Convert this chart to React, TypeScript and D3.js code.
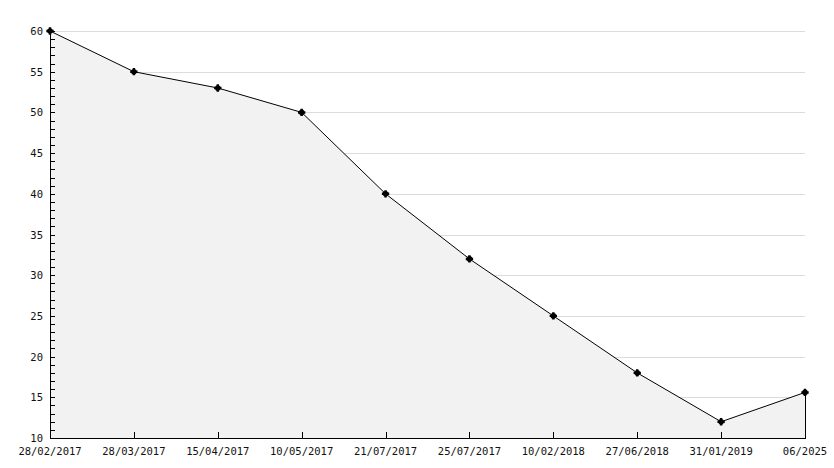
import React, { useEffect, useRef } from 'react';
import * as d3 from 'd3';

const dates = [
  '28/02/2017', '28/03/2017', '15/04/2017', '10/05/2017', '21/07/2017',
  '25/07/2017', '10/02/2018', '27/06/2018', '31/01/2019', '06/2025',
];
const values = [60, 55, 53, 50, 40, 32, 25, 18, 12, 15.6];
const yTicks = [10, 15, 20, 25, 30, 35, 40, 45, 50, 55, 60];

const App: React.FC = () => {
  const svgRef = useRef<SVGSVGElement>(null);

  useEffect(() => {
    if (!svgRef.current) return;
    d3.select(svgRef.current).selectAll('*').remove();

    const width = 834;
    const height = 468;
    const left = 50, right = 805, top = 31, bottom = 438;
    const font = '"DejaVu Sans Mono", monospace';

    const svg = d3.select(svgRef.current)
      .attr('width', width)
      .attr('height', height);

    const x = d3.scalePoint<string>().domain(dates).range([left, right]);
    const y = d3.scaleLinear().domain([10, 60]).range([bottom, top]);

    const pts = dates.map((d, i) => ({ d, v: values[i] }));

    // Gridlines
    svg.append('g')
      .selectAll('line')
      .data(yTicks.filter(t => t > 10))
      .enter().append('line')
      .attr('x1', left)
      .attr('x2', right)
      .attr('y1', d => Math.round(y(d)) + 0.5)
      .attr('y2', d => Math.round(y(d)) + 0.5)
      .attr('stroke', '#dcdcdc')
      .attr('shape-rendering', 'crispEdges');

    // Area
    const area = d3.area<{ d: string; v: number }>()
      .x(p => x(p.d) ?? 0)
      .y0(bottom)
      .y1(p => y(p.v));
    svg.append('path')
      .datum(pts)
      .attr('d', area)
      .attr('fill', '#f2f2f2');

    // right edge of area
    svg.append('line')
      .attr('x1', right + 0.5).attr('x2', right + 0.5)
      .attr('y1', y(values[values.length - 1]))
      .attr('y2', bottom)
      .attr('stroke', '#000');

    // Line
    const line = d3.line<{ d: string; v: number }>()
      .x(p => x(p.d) ?? 0)
      .y(p => y(p.v));
    svg.append('path')
      .datum(pts)
      .attr('d', line)
      .attr('fill', 'none')
      .attr('stroke', '#000')
      .attr('stroke-width', 1);

    // Markers
    svg.append('g')
      .selectAll('path')
      .data(pts)
      .enter().append('path')
      .attr('transform', p => `translate(${x(p.d)},${y(p.v)})`)
      .attr('d', d3.symbol().type(d3.symbolCross).size(30)())
      .attr('fill', '#000');
    svg.append('g')
      .selectAll('circle')
      .data(pts)
      .enter().append('circle')
      .attr('cx', p => x(p.d) ?? 0)
      .attr('cy', p => y(p.v))
      .attr('r', 2.8)
      .attr('fill', '#000');

    // Y axis
    svg.append('line')
      .attr('x1', left + 0.5).attr('x2', left + 0.5)
      .attr('y1', top).attr('y2', bottom)
      .attr('stroke', '#000')
      .attr('shape-rendering', 'crispEdges');
    const minor = d3.range(10, 60.01, 1);
    svg.append('g')
      .selectAll('line')
      .data(minor)
      .enter().append('line')
      .attr('x1', left)
      .attr('x2', left + 5)
      .attr('y1', d => Math.round(y(d)) + 0.5)
      .attr('y2', d => Math.round(y(d)) + 0.5)
      .attr('stroke', '#000')
      .attr('shape-rendering', 'crispEdges');
    svg.append('g')
      .selectAll('text')
      .data(yTicks)
      .enter().append('text')
      .attr('x', 43)
      .attr('y', d => y(d) + 4)
      .attr('text-anchor', 'end')
      .style('font-family', font)
      .style('font-size', '10.5px')
      .style('fill', '#111')
      .text(d => d);

    // X axis
    svg.append('line')
      .attr('x1', left).attr('x2', right + 1)
      .attr('y1', bottom + 0.5).attr('y2', bottom + 0.5)
      .attr('stroke', '#000')
      .attr('shape-rendering', 'crispEdges');
    svg.append('g')
      .selectAll('line')
      .data(dates.slice(1, -1))
      .enter().append('line')
      .attr('x1', d => Math.round(x(d) ?? 0) + 0.5)
      .attr('x2', d => Math.round(x(d) ?? 0) + 0.5)
      .attr('y1', bottom - 6)
      .attr('y2', bottom)
      .attr('stroke', '#000')
      .attr('shape-rendering', 'crispEdges');
    svg.append('g')
      .selectAll('text')
      .data(dates)
      .enter().append('text')
      .attr('x', d => x(d) ?? 0)
      .attr('y', 455)
      .attr('text-anchor', 'middle')
      .style('font-family', font)
      .style('font-size', '10.5px')
      .style('fill', '#111')
      .text(d => d);
  }, []);

  return <svg ref={svgRef} style={{ position: 'absolute', left: 0, top: 0 }} />;
};

export default App;
